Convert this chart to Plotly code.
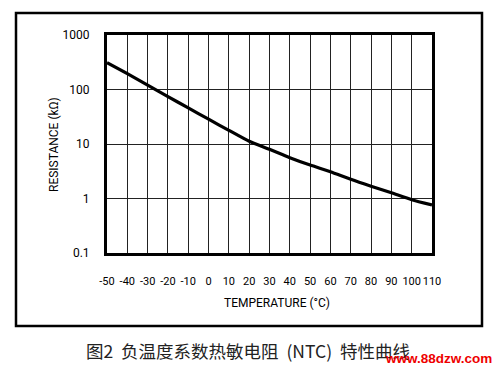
import plotly.graph_objects as go

temperature_c = [-50, -40, -30, -20, -10, 0, 10, 20, 30, 40, 50, 60, 70, 80, 90, 100, 110]
resistance_kohm = [310, 195, 120, 74, 46, 28.5, 17.8, 11.2, 8.0, 5.6, 4.1, 3.1, 2.25, 1.68, 1.27, 0.95, 0.76]

x_ticks = [-50, -40, -30, -20, -10, 0, 10, 20, 30, 40, 50, 60, 70, 80, 90, 100, 110]
x_tick_labels = [str(v) for v in x_ticks]
y_ticks = [0.1, 1, 10, 100, 1000]
y_tick_labels = ["0.1", "1", "10", "100", "1000"]

x_title = "TEMPERATURE (°C)"
y_title = "RESISTANCE (kΩ)"
caption = "图2  负温度系数热敏电阻  (NTC)  特性曲线"
watermark = "www.88dzw.com"

# page body has an 8px default margin; lay out in reference pixel coords minus that offset
OFF = 8
W, H = 500 - OFF, 371 - OFF
L, R, T, B = 107 - OFF, 432 - OFF, 35 - OFF, 253 - OFF
FONT = "Roboto, Liberation Sans, sans-serif"


def px(x):
    return (x - OFF - L) / (R - L)


def py(y):
    return (B - (y - OFF)) / (B - T)


fig = go.Figure()
fig.add_trace(go.Scatter(
    x=temperature_c, y=resistance_kohm, mode="lines",
    line=dict(color="black", width=3.2, shape="spline", smoothing=0.6),
    hoverinfo="skip", showlegend=False,
))

fig.update_layout(
    width=W, height=H,
    margin=dict(l=L, r=W - R, t=T, b=H - B),
    paper_bgcolor="white", plot_bgcolor="white",
    showlegend=False,
    xaxis=dict(
        range=[-50, 110], tickvals=x_ticks, ticktext=x_tick_labels, tickangle=0,
        showgrid=True, gridcolor="#222", gridwidth=1,
        showline=True, linecolor="black", linewidth=3, mirror=True,
        ticks="outside", ticklen=16, tickcolor="rgba(0,0,0,0)",
        tickfont=dict(family=FONT, size=11, color="black"),
        zeroline=False,
    ),
    yaxis=dict(
        type="log", range=[-1, 3], tickvals=y_ticks, ticktext=y_tick_labels,
        showgrid=True, gridcolor="#222", gridwidth=1,
        showline=True, linecolor="black", linewidth=3, mirror=True,
        ticks="outside", ticklen=12, tickcolor="rgba(0,0,0,0)",
        tickfont=dict(family=FONT, size=12, color="black"),
        zeroline=False,
    ),
    shapes=[dict(
        type="rect", xref="paper", yref="paper",
        x0=px(16), x1=px(482), y0=py(326), y1=py(13),
        line=dict(color="black", width=2.5), fillcolor="rgba(0,0,0,0)", layer="below",
    )],
    annotations=[
        dict(text=x_title, xref="paper", yref="paper", x=px(277), y=py(303),
             showarrow=False, xanchor="center", yanchor="middle",
             font=dict(family=FONT, size=12, color="black")),
        dict(text=y_title, xref="paper", yref="paper", x=px(54), y=py(145),
             showarrow=False, xanchor="center", yanchor="middle", textangle=-90,
             font=dict(family=FONT, size=12, color="black")),
        dict(text=caption, xref="paper", yref="paper", x=px(84), y=py(350),
             showarrow=False, xanchor="left", yanchor="middle",
             font=dict(family="Noto Sans CJK SC, sans-serif", size=17.5, color="#222")),
        dict(text="<b>" + watermark + "</b>", xref="paper", yref="paper", x=px(494), y=py(358),
             showarrow=False, xanchor="right", yanchor="middle",
             font=dict(family="Liberation Sans, Arial, sans-serif", size=13.5, color="#ee0000")),
    ],
)

fig.write_html("out.html")
